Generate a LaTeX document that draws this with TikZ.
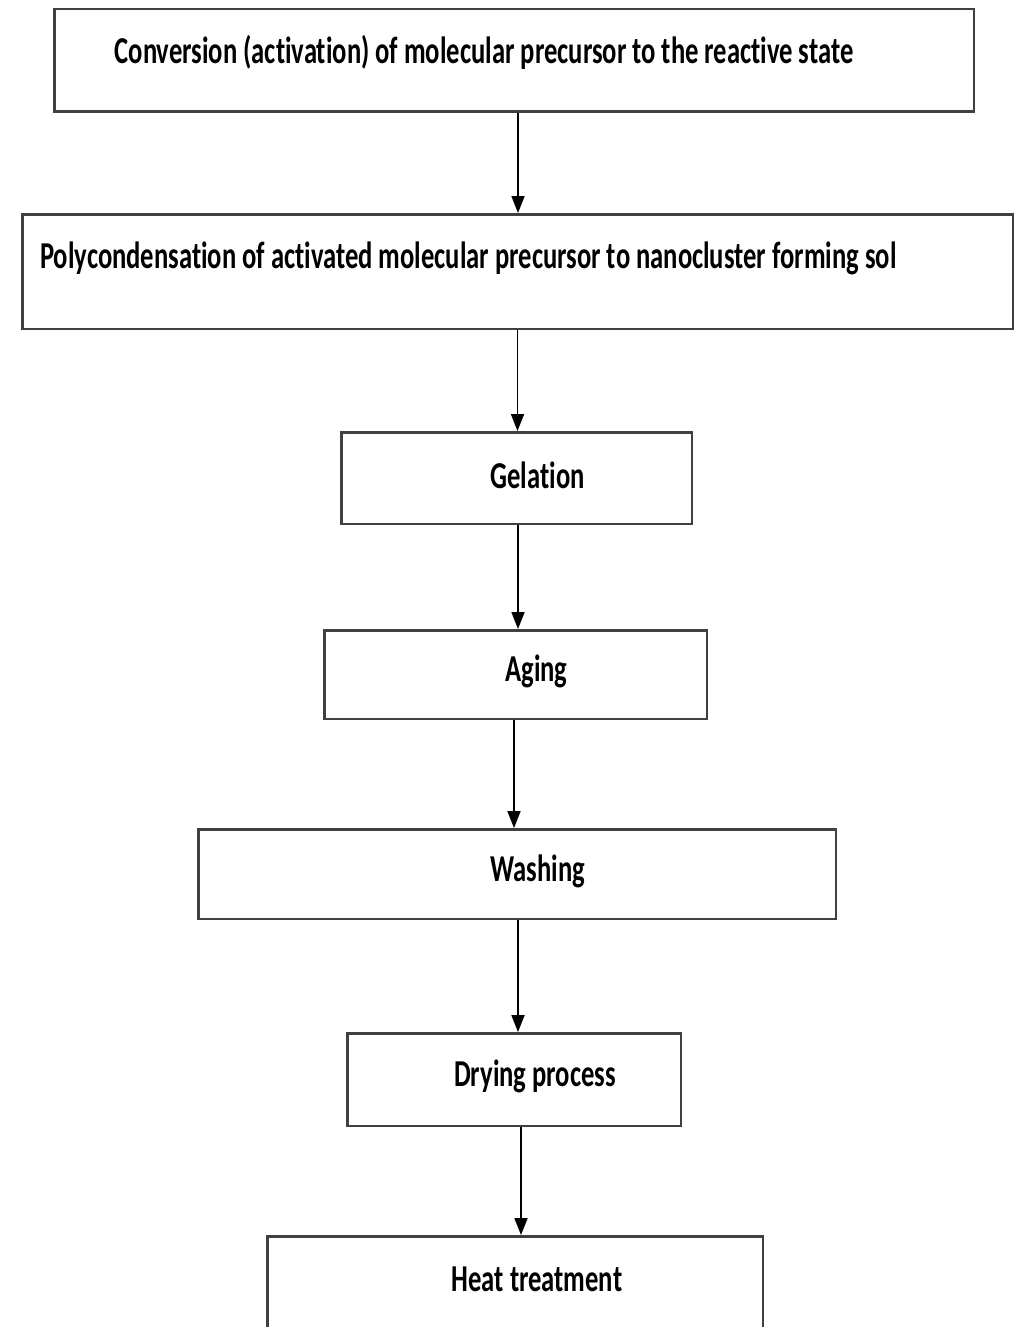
\documentclass[tikz,border=0pt]{standalone}
\usepackage{fontspec}
\setmainfont{Carlito}[FakeStretch=0.70, Ligatures=NoCommon]
\usetikzlibrary{positioning,arrows.meta}
\begin{document}
\begin{tikzpicture}[x=1pt, y=1pt,
                    stepbox/.style = {draw=black!75, line width=2.5pt, rectangle, inner sep=0pt},
                    steptext/.style = {inner sep=0pt, font=\fontsize{38}{42}\selectfont\bfseries},
                    flow/.style = {-{Triangle[width=13pt,length=17pt]}, line width=1.8pt}]
                    \useasboundingbox (0,0) rectangle (1025,-1327);

                    \node[stepbox, minimum width=919.5pt, minimum height=102.5pt,
                          label={[steptext, xshift=-30pt, yshift=8pt]center:Conversion (activation) of molecular precursor to the reactive state}] (conv) at (514,-60.5) {};
                    \node[stepbox, minimum width=990.5pt, minimum height=114.5pt, below=100pt of conv, xshift=3.5pt,
                          label={[steptext, anchor=west, xshift=19pt, yshift=13pt]west:Polycondensation of activated molecular precursor to nanocluster forming sol}] (poly) {};
                    \node[stepbox, minimum width=350.5pt, minimum height=91.5pt, below=101pt of poly, xshift=-1pt,
                          label={[steptext, xshift=21pt, yshift=3pt]center:Gelation}] (gel) {};
                    \node[stepbox, minimum width=382.5pt, minimum height=88.5pt, below=104pt of gel, xshift=-1pt,
                          label={[steptext, xshift=21pt, yshift=3pt]center:Aging}] (aging) {};
                    \node[stepbox, minimum width=637.5pt, minimum height=89.5pt, below=108pt of aging, xshift=1.5pt,
                          label={[steptext, xshift=21pt, yshift=3pt]center:Washing}] (wash) {};
                    \node[stepbox, minimum width=333.5pt, minimum height=92.5pt, below=112pt of wash, xshift=-3pt,
                          label={[steptext, xshift=21pt, yshift=3pt]center:Drying process}] (dry) {};
                    \node[stepbox, minimum width=495.5pt, minimum height=91.5pt, below=108pt of dry, xshift=1pt,
                          label={[steptext, xshift=22pt, yshift=3pt]center:Heat treatment}] (heat) {};

                    \draw[flow] ([xshift=4pt]conv.south) -- ([xshift=4pt]conv.south |- poly.north);
                    \draw[flow] (poly.south) -- (poly.south |- gel.north);
                    \draw[flow] ([xshift=1.5pt]gel.south) -- ([xshift=1.5pt]gel.south |- aging.north);
                    \draw[flow] ([xshift=-1.5pt]aging.south) -- ([xshift=-1.5pt]aging.south |- wash.north);
                    \draw[flow] ([xshift=1pt]wash.south) -- ([xshift=1pt]wash.south |- dry.north);
                    \draw[flow] ([xshift=7pt]dry.south) -- ([xshift=7pt]dry.south |- heat.north);
                \end{tikzpicture}
\end{document}
